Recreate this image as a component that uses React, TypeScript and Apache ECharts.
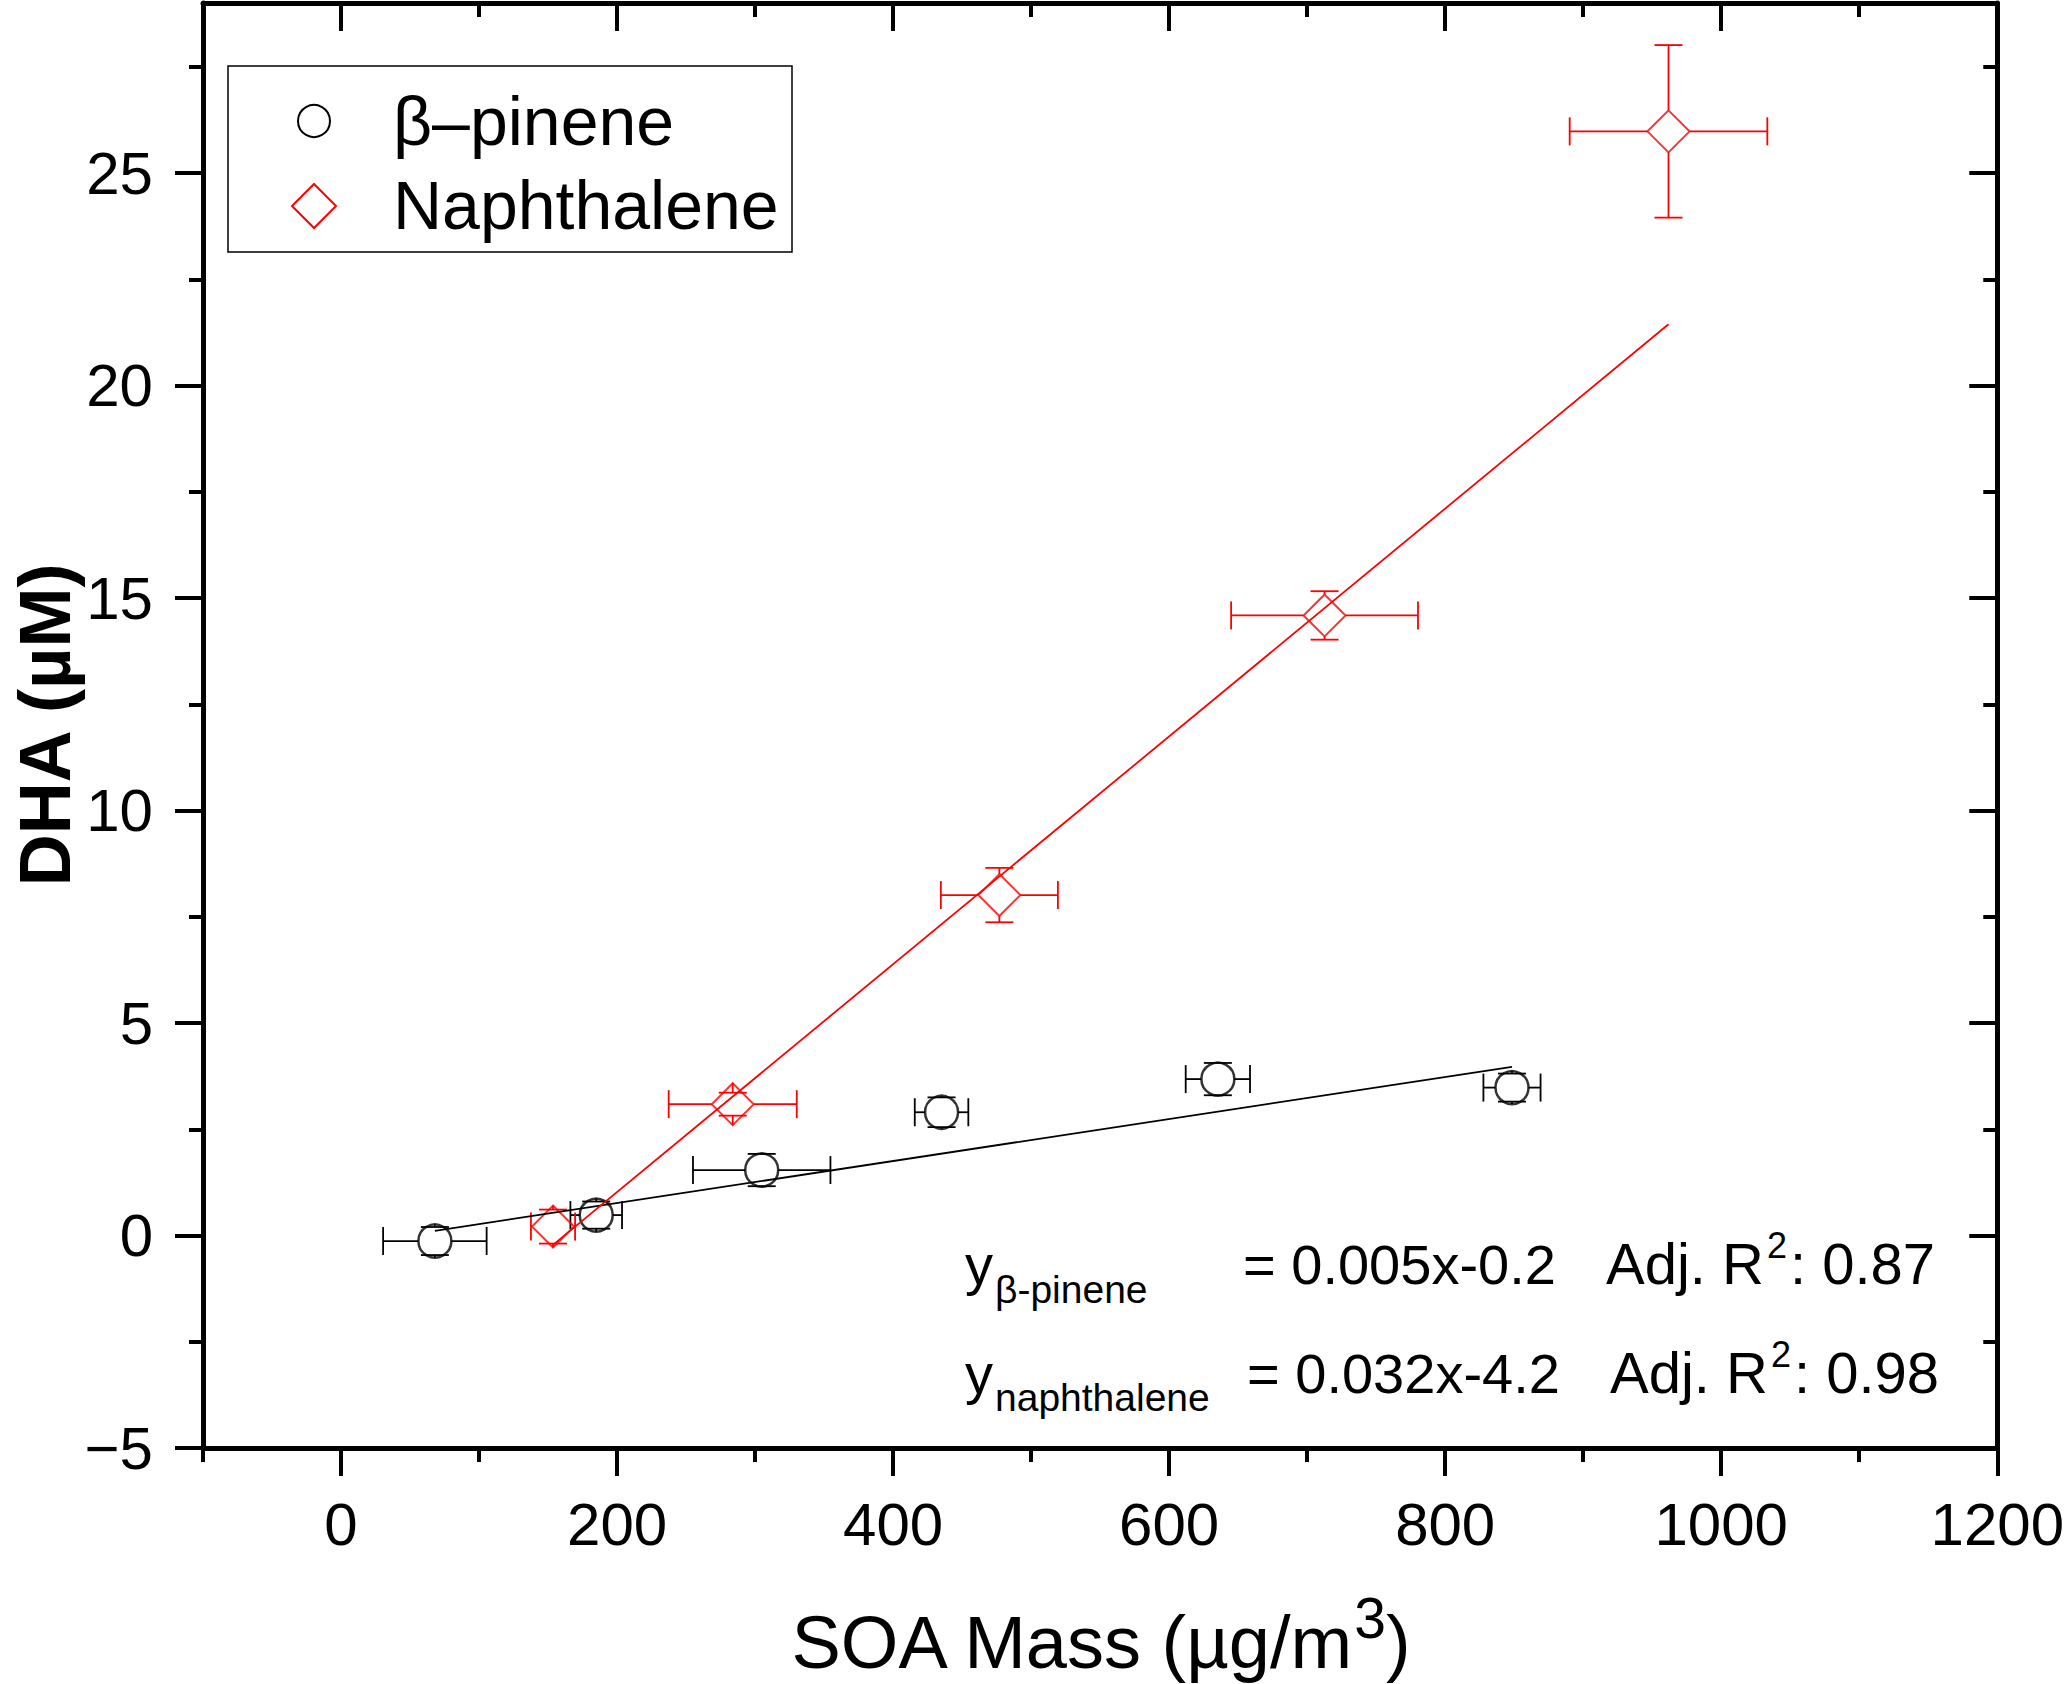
import React, { useEffect, useRef } from 'react';
import * as echarts from 'echarts';

// β-pinene points (x: SOA mass, y: DHA) with x / y error half-widths
const pineneX = [68.0, 184.9, 304.8, 435.1, 635.3, 848.4];
const pineneY = [-0.13, 0.48, 1.54, 2.9, 3.68, 3.48];
const pineneXErr = [37.5, 18.7, 49.8, 19.4, 23.3, 20.7];
const pineneYErr = [0.33, 0.32, 0.38, 0.35, 0.38, 0.33];

// Naphthalene points
const naphX = [153.6, 283.8, 477.0, 712.6, 961.8];
const naphY = [0.21, 3.09, 8.01, 14.59, 25.98];
const naphXErr = [16, 46.4, 42.4, 67.7, 71.6];
const naphYErr = [0.4, 0.27, 0.64, 0.57, 2.03];

// fitted lines, end points as drawn
const pineneFitX = [68.0, 848.4];
const pineneFitY = [0.11, 3.97];
const naphFitX = [153.6, 961.8];
const naphFitY = [-0.22, 21.44];

const xMajorTicks = [0, 200, 400, 600, 800, 1000, 1200];
const xMinorTicks = [-100, 100, 300, 500, 700, 900, 1100];
const yMajorTicks = [-5, 0, 5, 10, 15, 20, 25];
const yMinorTicks = [-2.5, 2.5, 7.5, 12.5, 17.5, 22.5, 27.5];

const FONT = "'Liberation Sans', Arial, Helvetica, sans-serif";
const RED = '#ff0000';

const axis = (
  min: number,
  max: number,
  position: string,
  ticks: number[],
  length: number,
  inside: boolean,
  withLabels: boolean,
  withLine: boolean,
) => ({
  type: 'value',
  min,
  max,
  position,
  splitLine: { show: false },
  axisLine: { show: withLine, onZero: false, lineStyle: { color: '#000', width: 5 } },
  axisTick: {
    show: true,
    inside,
    length,
    customValues: ticks,
    lineStyle: { color: '#000', width: 4 },
  },
  axisLabel: withLabels
    ? {
        show: true,
        customValues: ticks,
        fontSize: 60,
        fontFamily: FONT,
        color: '#000',
        margin: position === 'bottom' ? 46 : 50,
        formatter: (v: number) => (v < 0 ? '\u2212' + Math.abs(v) : String(v)),
      }
    : { show: false },
});

const errorBars = (r: number, color: string) => (params: any, api: any) => {
  const x = api.value(0);
  const y = api.value(1);
  const ex = api.value(2);
  const ey = api.value(3);
  const [cx, cy] = api.coord([x, y]);
  const xl = api.coord([x - ex, y])[0];
  const xr = api.coord([x + ex, y])[0];
  const yt = api.coord([x, y + ey])[1];
  const yb = api.coord([x, y - ey])[1];
  const cap = 14;
  const style = { stroke: color, lineWidth: 1.8 };
  const seg = (x1: number, y1: number, x2: number, y2: number) => ({
    type: 'line',
    shape: { x1, y1, x2, y2 },
    style,
  });
  return {
    type: 'group',
    children: [
      seg(cx - r, cy, xl, cy),
      seg(xl, cy - cap, xl, cy + cap),
      seg(cx + r, cy, xr, cy),
      seg(xr, cy - cap, xr, cy + cap),
      seg(cx, cy - r, cx, yt),
      seg(cx - cap, yt, cx + cap, yt),
      seg(cx, cy + r, cx, yb),
      seg(cx - cap, yb, cx + cap, yb),
    ],
  };
};

// text placed by its alphabetic baseline
const txt = (x: number, baseline: number, text: string, size: number, extra: any = {}) => ({
  type: 'text',
  x,
  y: baseline - 0.3465 * size,
  style: {
    text,
    fontSize: size,
    fontFamily: FONT,
    fill: '#000',
    align: 'left',
    verticalAlign: 'middle',
    ...extra,
  },
});

// "Adj. R²: value" with a raised 2, bottom of the rich line at baseline + 8.9
const r2Text = (x: number, baseline: number, value: string) => ({
  type: 'text',
  x,
  y: baseline + 8.9,
  style: {
    text: `{m|Adj. R}{s|2}{m|: ${value}}`,
    align: 'left',
    verticalAlign: 'bottom',
    rich: {
      m: { fontSize: 58, fontFamily: FONT, fill: '#000', verticalAlign: 'bottom' },
      s: {
        fontSize: 36,
        fontFamily: FONT,
        fill: '#000',
        verticalAlign: 'bottom',
        padding: [0, 3, 29, 3],
      },
    },
  },
});

const App: React.FC = () => {
  const chartRef = useRef<HTMLDivElement>(null);

  useEffect(() => {
    if (!chartRef.current) return;
    const chart = echarts.init(chartRef.current, null, { renderer: 'svg' });

    const option: any = {
      animation: false,
      backgroundColor: '#fff',
      grid: { left: 203, right: 66, top: 3, bottom: 236 },
      xAxis: [
        axis(-100, 1200, 'bottom', xMajorTicks, 28, false, true, true),
        axis(-100, 1200, 'bottom', xMinorTicks, 14, false, false, false),
        axis(-100, 1200, 'top', xMajorTicks, 28, true, false, true),
        axis(-100, 1200, 'top', xMinorTicks, 14, true, false, false),
      ],
      yAxis: [
        axis(-5, 29, 'left', yMajorTicks, 28, false, true, true),
        axis(-5, 29, 'left', yMinorTicks, 14, false, false, false),
        axis(-5, 29, 'right', yMajorTicks, 28, true, false, true),
        axis(-5, 29, 'right', yMinorTicks, 14, true, false, false),
      ],
      series: [
        {
          name: 'β-pinene fit',
          type: 'line',
          showSymbol: false,
          data: pineneFitX.map((x, i) => [x, pineneFitY[i]]),
          lineStyle: { color: '#000', width: 1.8 },
        },
        {
          name: 'Naphthalene fit',
          type: 'line',
          showSymbol: false,
          data: naphFitX.map((x, i) => [x, naphFitY[i]]),
          lineStyle: { color: RED, width: 1.8 },
        },
        {
          name: 'β-pinene error',
          type: 'custom',
          renderItem: errorBars(16.5, '#000'),
          encode: { x: 0, y: 1 },
          data: pineneX.map((x, i) => [x, pineneY[i], pineneXErr[i], pineneYErr[i]]),
        },
        {
          name: 'Naphthalene error',
          type: 'custom',
          renderItem: errorBars(21, RED),
          encode: { x: 0, y: 1 },
          data: naphX.map((x, i) => [x, naphY[i], naphXErr[i], naphYErr[i]]),
        },
        {
          name: 'β–pinene',
          type: 'scatter',
          symbol: 'circle',
          symbolSize: 33,
          data: pineneX.map((x, i) => [x, pineneY[i]]),
          itemStyle: { color: 'rgba(0,0,0,0)', borderColor: '#000', borderWidth: 2.5 },
        },
        {
          name: 'Naphthalene',
          type: 'scatter',
          symbol: 'diamond',
          symbolSize: 42,
          data: naphX.map((x, i) => [x, naphY[i]]),
          itemStyle: { color: 'rgba(0,0,0,0)', borderColor: RED, borderWidth: 2 },
        },
      ],
      graphic: [
        // legend
        {
          type: 'rect',
          shape: { x: 228, y: 66, width: 564, height: 186 },
          style: { fill: 'none', stroke: '#000', lineWidth: 1.5 },
        },
        {
          type: 'circle',
          shape: { cx: 314, cy: 121, r: 16 },
          style: { fill: 'none', stroke: '#000', lineWidth: 2 },
        },
        {
          type: 'polygon',
          shape: { points: [[314, 184], [336, 206], [314, 228], [292, 206]] },
          style: { fill: 'none', stroke: RED, lineWidth: 2 },
        },
        txt(393, 145, 'β–pinene', 68),
        txt(393, 229, 'Naphthalene', 68),
        // fit equations
        txt(965, 1284, 'y', 56),
        txt(995, 1303, 'β-pinene', 39),
        txt(1243, 1284, '= 0.005x-0.2', 56),
        r2Text(1606, 1284, '0.87'),
        txt(965, 1393, 'y', 56),
        txt(995, 1411, 'naphthalene', 39),
        txt(1247, 1393, '= 0.032x-4.2', 56),
        r2Text(1610, 1393, '0.98'),
        // axis titles
        {
          type: 'text',
          x: 1100,
          y: 1679,
          style: {
            text: '{a|SOA Mass (µg/m}{s|3}{a|)}',
            align: 'center',
            verticalAlign: 'bottom',
            rich: {
              a: { fontSize: 74, fontFamily: FONT, fill: '#000', verticalAlign: 'bottom' },
              s: {
                fontSize: 57,
                fontFamily: FONT,
                fill: '#000',
                verticalAlign: 'bottom',
                padding: [0, 0, 33, 0],
              },
            },
          },
        },
        {
          type: 'text',
          x: 45,
          y: 725,
          rotation: Math.PI / 2,
          style: {
            text: 'DHA (µM)',
            fontSize: 72,
            fontWeight: 'bold',
            fontFamily: FONT,
            fill: '#000',
            align: 'center',
            verticalAlign: 'middle',
          },
        },
      ],
    };

    chart.setOption(option);

    return () => {
      chart.dispose();
    };
  }, []);

  return (
    <div
      ref={chartRef}
      style={{ position: 'absolute', left: 0, top: 0, width: 2067, height: 1684 }}
    />
  );
};

export default App;
